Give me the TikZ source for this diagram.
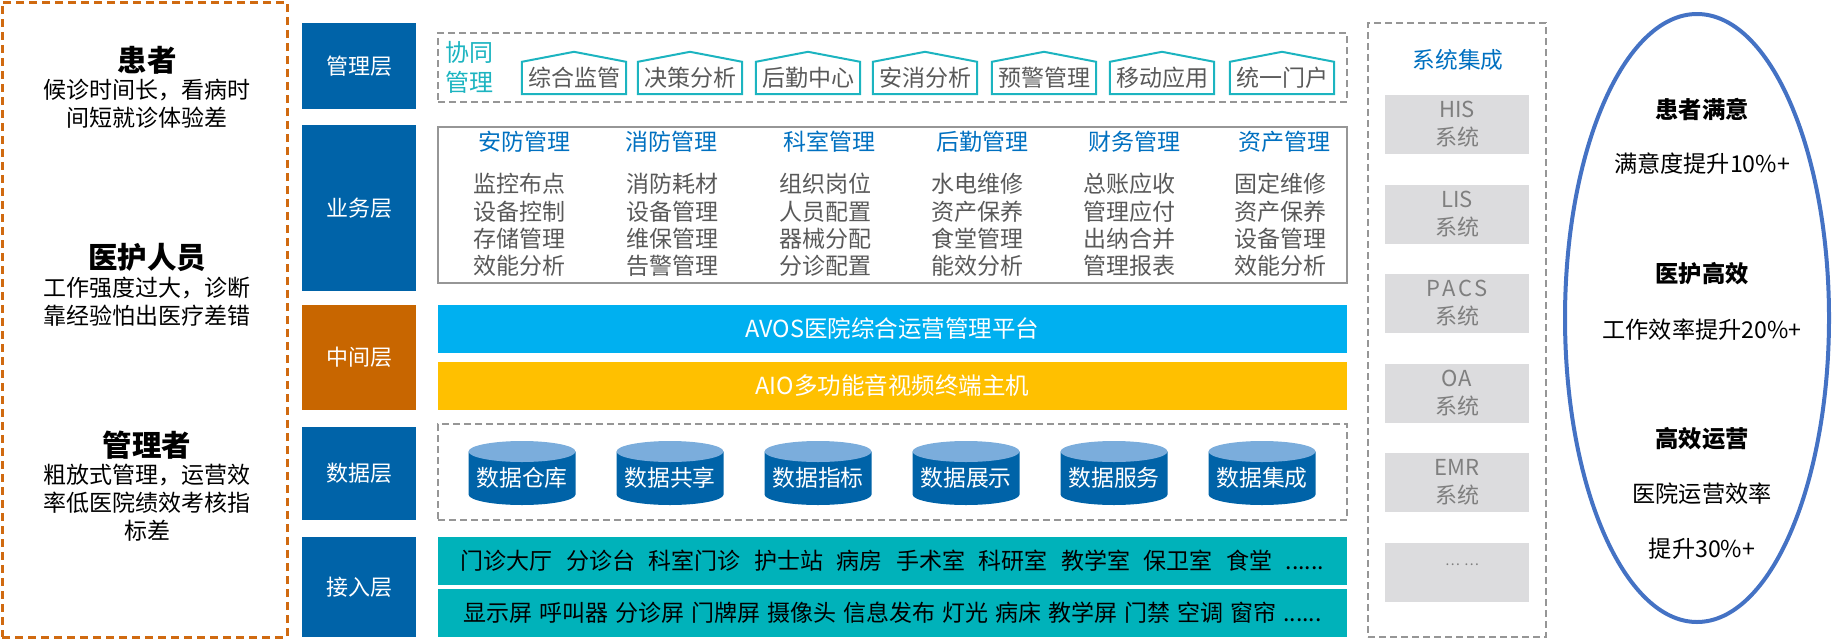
\documentclass[tikz,border=0pt]{standalone}
\usepackage{xcolor}
\usepackage{fontspec}
\setmainfont{Noto Sans CJK SC}
\usetikzlibrary{positioning}
\usetikzlibrary{shapes.geometric}

\definecolor{layerblue}{RGB}{0,99,168}
\definecolor{layerorange}{RGB}{200,102,0}
\definecolor{headblue}{RGB}{0,112,192}
\definecolor{housecyan}{RGB}{28,180,192}
\definecolor{accteal}{RGB}{0,178,186}
\definecolor{avosblue}{RGB}{0,176,240}
\definecolor{aioyellow}{RGB}{255,192,0}
\definecolor{dashgray}{RGB}{150,150,150}
\definecolor{textgray}{RGB}{89,89,89}
\definecolor{sysgray}{RGB}{220,220,222}
\definecolor{systext}{RGB}{127,127,127}
\definecolor{capblue}{RGB}{123,173,220}
\definecolor{ringblue}{RGB}{68,114,196}
\definecolor{paneorange}{RGB}{208,106,16}

\begin{document}
\begin{tikzpicture}[x=1pt,y=-1pt,
  layerbox/.style={fill=layerblue,text=white,minimum width=114pt,inner sep=0pt,font=\fontsize{22}{26}\selectfont},
  graydash/.style={draw=dashgray,line width=2pt,dash pattern=on 7pt off 4pt,inner sep=0pt},
  housebox/.style={minimum width=104pt,minimum height=32pt,inner sep=0pt,text=textgray,font=\fontsize{23}{26}\selectfont},
  roof/.style={draw=housecyan,line width=2pt},
  colhead/.style={text=headblue,font=\fontsize{23}{26}\selectfont},
  colitem/.style={text=textgray,align=center,font=\fontsize{23}{27.3}\selectfont},
  widebar/.style={minimum width=909pt,inner sep=0pt,font=\fontsize{23}{26}\selectfont},
  dbtext/.style={inner sep=0pt,text=white,font=\fontsize{22.8}{26}\selectfont},
  sysbox/.style={fill=sysgray,minimum width=144pt,minimum height=59pt,inner sep=0pt,align=center,text=systext,font=\fontsize{22}{28}\selectfont},
  whotitle/.style={font=\fontsize{29.5}{32}\selectfont\bfseries},
  whotext/.style={align=center,font=\fontsize{23}{28}\selectfont},
  goalhead/.style={font=\fontsize{23.3}{26}\selectfont\bfseries},
  goaltext/.style={font=\fontsize{23.2}{26}\selectfont}]
  \useasboundingbox (0,0) rectangle (1846,640);

  % left panel: who suffers
  \node[draw=paneorange,line width=3pt,dash pattern=on 8pt off 5pt,minimum width=285pt,minimum height=635pt,inner sep=0pt] (WHO) at (144.5,319.5) {};
  \node[whotitle] (PAT) at (147,60) {患者};
  \node[whotext] (PATD) at (147,104) {候诊时间长，看病时\\间短就诊体验差};
  \node[whotitle] (MED) at (147,257) {医护人员};
  \node[whotext] (MEDD) at (147,301.5) {工作强度过大，诊断\\靠经验怕出医疗差错};
  \node[whotitle] (ADM) at (147,445) {管理者};
  \node[whotext] (ADMD) at (147,503) {粗放式管理，运营效\\率低医院绩效考核指\\标差};

  % layer column
  \node[layerbox,minimum height=86pt] (MGT) at (359,66) {管理层};
  \node[layerbox,minimum height=166pt] (BIZ) at (359,208) {业务层};
  \node[layerbox,minimum height=105pt,fill=layerorange] (MID) at (359,357.5) {中间层};
  \node[layerbox,minimum height=93pt] (DAT) at (359,473.5) {数据层};
  \node[layerbox,minimum height=100pt] (ACC) at (359,587) {接入层};

  % management layer
  \node[graydash,minimum width=909pt,minimum height=69pt] (MGTF) at (892.5,67.5) {};
  \node[text=housecyan,align=center,font=\fontsize{24}{30}\selectfont] (XTGL) at (469.5,67) {协同\\管理};
  \node[housebox] (ZHJG) at (574,78) {综合监管};
  \node[housebox] (JCFX) at (690,78) {决策分析};
  \node[housebox] (HQZX) at (808,78) {后勤中心};
  \node[housebox] (AXFX) at (925,78) {安消分析};
  \node[housebox] (YJGL) at (1044,78) {预警管理};
  \node[housebox] (YDYY) at (1162,78) {移动应用};
  \node[housebox] (TYMH) at (1282,78) {统一门户};
  \draw[roof] (ZHJG.south west) -- (ZHJG.north west) -- ([yshift=10pt]ZHJG.north) -- (ZHJG.north east) -- (ZHJG.south east) -- cycle;
  \draw[roof] (JCFX.south west) -- (JCFX.north west) -- ([yshift=10pt]JCFX.north) -- (JCFX.north east) -- (JCFX.south east) -- cycle;
  \draw[roof] (HQZX.south west) -- (HQZX.north west) -- ([yshift=10pt]HQZX.north) -- (HQZX.north east) -- (HQZX.south east) -- cycle;
  \draw[roof] (AXFX.south west) -- (AXFX.north west) -- ([yshift=10pt]AXFX.north) -- (AXFX.north east) -- (AXFX.south east) -- cycle;
  \draw[roof] (YJGL.south west) -- (YJGL.north west) -- ([yshift=10pt]YJGL.north) -- (YJGL.north east) -- (YJGL.south east) -- cycle;
  \draw[roof] (YDYY.south west) -- (YDYY.north west) -- ([yshift=10pt]YDYY.north) -- (YDYY.north east) -- (YDYY.south east) -- cycle;
  \draw[roof] (TYMH.south west) -- (TYMH.north west) -- ([yshift=10pt]TYMH.north) -- (TYMH.north east) -- (TYMH.south east) -- cycle;

  % business layer
  \node[draw=dashgray,line width=2pt,minimum width=909pt,minimum height=156pt,inner sep=0pt] (BIZF) at (892.5,205) {};
  \node[colhead] (AFGL) at (524,142) {安防管理};
  \node[colhead] (XFGL) at (671,142) {消防管理};
  \node[colhead] (KSGL) at (829,142) {科室管理};
  \node[colhead] (HQGL) at (982,142) {后勤管理};
  \node[colhead] (CWGL) at (1134,142) {财务管理};
  \node[colhead] (ZCGL) at (1284,142) {资产管理};
  \node[colitem] (AFGLD) at (519.5,225) {监控布点\\设备控制\\存储管理\\效能分析};
  \node[colitem] (XFGLD) at (672.5,225) {消防耗材\\设备管理\\维保管理\\告警管理};
  \node[colitem] (KSGLD) at (825,225) {组织岗位\\人员配置\\器械分配\\分诊配置};
  \node[colitem] (HQGLD) at (977,225) {水电维修\\资产保养\\食堂管理\\能效分析};
  \node[colitem] (CWGLD) at (1129,225) {总账应收\\管理应付\\出纳合并\\管理报表};
  \node[colitem] (ZCGLD) at (1280,225) {固定维修\\资产保养\\设备管理\\效能分析};

  % middle layer
  \node[widebar,fill=avosblue,text=white,minimum height=48pt,font=\fontsize{23.5}{26}\selectfont] (AVOS) at (892.5,328.5) {AVOS医院综合运营管理平台};
  \node[widebar,fill=aioyellow,text=white,minimum height=48pt,font=\fontsize{23.5}{26}\selectfont] (AIO) at (892.5,386) {AIO多功能音视频终端主机};

  % data layer
  \node[graydash,minimum width=909pt,minimum height=96pt] (DATF) at (892.5,472) {};
  \foreach \cx/\cn/\ct in {522/CK/数据仓库,670/GX/数据共享,818/ZB/数据指标,966/ZS/数据展示,1114/FW/数据服务,1262/JC/数据集成}{
    \fill[layerblue] (\cx-53.5,451.5) -- (\cx-53.5,494.5) arc[start angle=180,end angle=0,x radius=53.5,y radius=10.5] -- (\cx+53.5,451.5) -- cycle;
    \fill[capblue] (\cx,451.5) ellipse[x radius=53.5,y radius=10.5];
    \node[dbtext] (\cn) at (\cx,478) {\ct};
  }

  % access layer
  \node[widebar,fill=accteal,minimum height=48pt] (PLACE) at (892.5,561) {门诊大厅\hspace{13.5pt}分诊台\hspace{13.5pt}科室门诊\hspace{13.5pt}护士站\hspace{13.5pt}病房\hspace{13.5pt}手术室\hspace{13.5pt}科研室\hspace{13.5pt}教学室\hspace{13.5pt}保卫室\hspace{13.5pt}食堂\hspace{13.5pt}......};
  \node[widebar,fill=accteal,minimum height=48pt] (DEV) at (892.5,613) {显示屏\hspace{7pt}呼叫器\hspace{7pt}分诊屏\hspace{7pt}门牌屏\hspace{7pt}摄像头\hspace{7pt}信息发布\hspace{7pt}灯光\hspace{7pt}病床\hspace{7pt}教学屏\hspace{7pt}门禁\hspace{7pt}空调\hspace{7pt}窗帘\hspace{7pt}......};

  % system integration
  \node[graydash,minimum width=178pt,minimum height=614pt] (SYSF) at (1457,330) {};
  \node[text=headblue,font=\fontsize{22.7}{26}\selectfont] (SYS) at (1458,60) {系统集成};
  \node[sysbox] (HIS) at (1457,124.5) {HIS\\系统};
  \node[sysbox] (LIS) at (1457,214.5) {LIS\\系统};
  \node[sysbox] (PACS) at (1457,303.5) {P\hspace{2pt}A\hspace{2pt}C\hspace{2pt}S\\系统};
  \node[sysbox] (OA) at (1457,393.5) {O\hspace{1pt}A\\系统};
  \node[sysbox] (EMR) at (1457,482.5) {EMR\\系统};
  \node[sysbox] (MORE) at (1457,572.5) {};
  \node[text=systext,font=\fontsize{14}{16}\selectfont] (DOTS) at (1462,565) {…\hspace{4pt}…};

  % goals
  \node[draw=ringblue,line width=4pt,ellipse,minimum width=264pt,minimum height=608pt,inner sep=0pt] (GOAL) at (1697,318) {};
  \node[goalhead] (G1) at (1702,109) {患者满意};
  \node[goaltext] (G1D) at (1702,164) {满意度提升10\%+};
  \node[goalhead] (G2) at (1702,274) {医护高效};
  \node[goaltext] (G2D) at (1702,330) {工作效率提升20\%+};
  \node[goalhead] (G3) at (1702,439) {高效运营};
  \node[goaltext] (G3D) at (1702,494) {医院运营效率};
  \node[goaltext] (G3E) at (1702,549) {提升30\%+};
\end{tikzpicture}
\end{document}
